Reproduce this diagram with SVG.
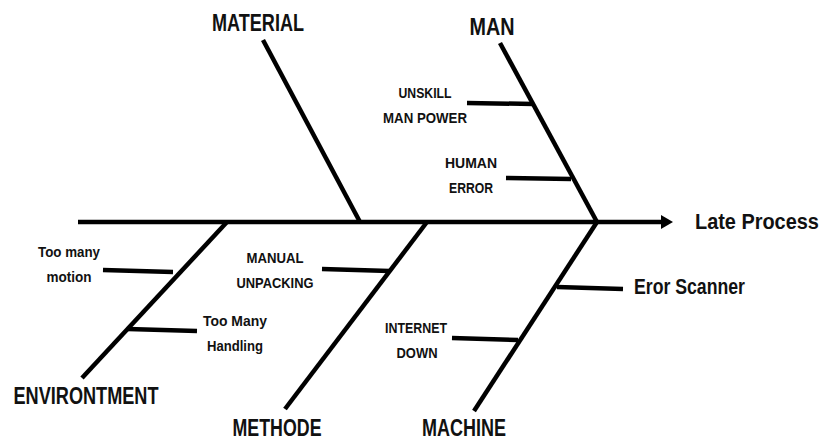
<svg xmlns="http://www.w3.org/2000/svg" width="825" height="443" viewBox="0 0 825 443">
  <defs>
    <marker id="arrowHead" markerUnits="userSpaceOnUse" markerWidth="14" markerHeight="16" refX="2" refY="7" orient="auto">
      <path d="M0,0 L12,7 L0,14 Z" fill="#000"/>
    </marker>
    <style>
      .bone { stroke: #000; stroke-width: 4.5; fill: none; stroke-linecap: butt; }
      .tick { stroke: #000; stroke-width: 4.5; fill: none; }
      .cat { font-family: "Liberation Sans", Arial, sans-serif; font-weight: bold; font-size: 23px; fill: #111; text-anchor: middle; }
      .effect { font-family: "Liberation Sans", Arial, sans-serif; font-weight: bold; font-size: 22px; fill: #111; }
      .cause { font-family: "Liberation Sans", Arial, sans-serif; font-weight: bold; font-size: 15px; fill: #111; text-anchor: middle; }
    </style>
  </defs>
  <rect width="825" height="443" fill="#fff"/>

  <!-- spine and main bones -->
  <g id="connectors">
    <line class="bone" x1="78" y1="222" x2="663" y2="222" marker-end="url(#arrowHead)"/>
    <line class="bone" x1="263" y1="40" x2="360" y2="222"/>
    <line class="bone" x1="500" y1="43" x2="597" y2="222"/>
    <line class="bone" x1="227" y1="222" x2="82" y2="378"/>
    <line class="bone" x1="427" y1="222" x2="285" y2="409"/>
    <line class="bone" x1="597" y1="222" x2="474" y2="411"/>
  </g>

  <!-- effect (horizontally condensed) -->
  <g id="effect">
    <text class="effect" transform="translate(695,229) scale(0.905,1)" x="0" y="0">Late Process</text>
  </g>

  <!-- categories -->
  <g id="material">
    <text class="cat" x="258" y="31" textLength="92" lengthAdjust="spacingAndGlyphs">MATERIAL</text>
  </g>

  <g id="man">
    <text class="cat" x="492" y="35" textLength="45" lengthAdjust="spacingAndGlyphs">MAN</text>
    <g id="unskill-man-power">
      <line class="tick" x1="467" y1="103" x2="534" y2="104"/>
      <text class="cause" x="425" y="98" textLength="53" lengthAdjust="spacingAndGlyphs">UNSKILL</text>
      <text class="cause" x="425" y="123" textLength="84" lengthAdjust="spacingAndGlyphs">MAN POWER</text>
    </g>
    <g id="human-error">
      <line class="tick" x1="506" y1="178" x2="571" y2="179"/>
      <text class="cause" x="471" y="168" textLength="52" lengthAdjust="spacingAndGlyphs">HUMAN</text>
      <text class="cause" x="471" y="193" textLength="44" lengthAdjust="spacingAndGlyphs">ERROR</text>
    </g>
  </g>

  <g id="environment">
    <text class="cat" x="86" y="404" textLength="145" lengthAdjust="spacingAndGlyphs">ENVIRONTMENT</text>
    <g id="too-many-motion">
      <line class="tick" x1="103" y1="270" x2="173" y2="272"/>
      <text class="cause" x="69" y="257" textLength="62" lengthAdjust="spacingAndGlyphs">Too many</text>
      <text class="cause" x="69" y="282" textLength="45" lengthAdjust="spacingAndGlyphs">motion</text>
    </g>
    <g id="too-many-handling">
      <line class="tick" x1="128" y1="329" x2="197" y2="331"/>
      <text class="cause" x="235" y="326" textLength="64" lengthAdjust="spacingAndGlyphs">Too Many</text>
      <text class="cause" x="235" y="351" textLength="56" lengthAdjust="spacingAndGlyphs">Handling</text>
    </g>
  </g>

  <g id="methode">
    <text class="cat" x="277" y="436" textLength="89" lengthAdjust="spacingAndGlyphs">METHODE</text>
    <g id="manual-unpacking">
      <line class="tick" x1="322" y1="269" x2="390" y2="271"/>
      <text class="cause" x="275" y="263" textLength="57" lengthAdjust="spacingAndGlyphs">MANUAL</text>
      <text class="cause" x="275" y="288" textLength="77" lengthAdjust="spacingAndGlyphs">UNPACKING</text>
    </g>
  </g>

  <g id="machine">
    <text class="cat" x="464" y="436" textLength="84" lengthAdjust="spacingAndGlyphs">MACHINE</text>
    <g id="eror-scanner">
      <line class="tick" x1="557" y1="287" x2="623" y2="289"/>
      <text class="effect" x="634" y="294" font-size="21" textLength="111" lengthAdjust="spacingAndGlyphs">Eror Scanner</text>
    </g>
    <g id="internet-down">
      <line class="tick" x1="452" y1="338" x2="518" y2="340"/>
      <text class="cause" x="416" y="333" textLength="62" lengthAdjust="spacingAndGlyphs">INTERNET</text>
      <text class="cause" x="417" y="358" textLength="41" lengthAdjust="spacingAndGlyphs">DOWN</text>
    </g>
  </g>
</svg>
